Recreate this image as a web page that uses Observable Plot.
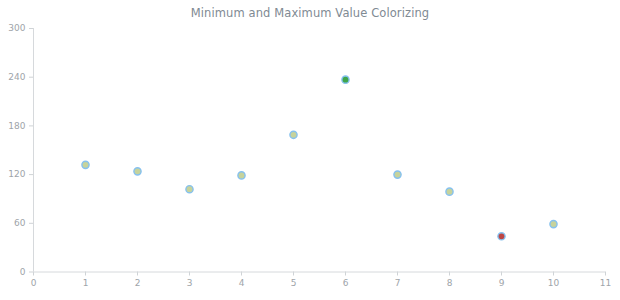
<!DOCTYPE html>
<html>
<head>
<meta charset="utf-8">
<script src="https://cdn.jsdelivr.net/npm/d3@7"></script>
<script src="https://cdn.jsdelivr.net/npm/@observablehq/plot@0.6"></script>
<style>
  body { margin: 0; background: #fff; }
  #wrap { position: relative; width: 620px; height: 300px; }
  #title { position: absolute; left: 0; top: 6px; width: 620px; text-align: center;
    font: 11.5px "DejaVu Sans", sans-serif; color: #808a93; letter-spacing: 0.1px; }
</style>
</head>
<body>
<div id="wrap"><div id="title">Minimum and Maximum Value Colorizing</div></div>
<script>
const xValues = [1, 2, 3, 4, 5, 6, 7, 8, 9, 10];
const yValues = [132, 124, 102, 119, 169, 237, 120, 99, 44, 59];
const xTicks = [0, 1, 2, 3, 4, 5, 6, 7, 8, 9, 10, 11];
const yTicks = [0, 60, 120, 180, 240, 300];

const maxV = d3.max(yValues), minV = d3.min(yValues);
const data = xValues.map((x, i) => ({
  x, y: yValues[i],
  kind: yValues[i] === maxV ? "max" : yValues[i] === minV ? "min" : "normal"
}));

const chart = Plot.plot({
  width: 620,
  height: 300,
  marginTop: 28,
  marginBottom: 28.5,
  marginLeft: 33,
  marginRight: 15,
  style: { fontFamily: "DejaVu Sans, sans-serif", fontSize: "9px", color: "#9ea4a9", background: "#fff" },
  x: { domain: [0, 11], ticks: xTicks, tickSize: 4, tickPadding: 4, label: null },
  y: { domain: [0, 300], ticks: yTicks, tickSize: 4, tickPadding: 4, label: null },
  color: { domain: ["normal", "max", "min"], range: ["#c6d39c", "#3fa64a", "#bd4645"] },
  marks: [
    Plot.axisX({ ticks: xTicks, tickSize: 4, tickPadding: 4, stroke: "#cfd3d6", fill: "#9ea4a9", label: null }),
    Plot.axisY({ ticks: yTicks, tickSize: 4, tickPadding: 4, stroke: "#cfd3d6", fill: "#9ea4a9", label: null }),
    Plot.ruleX([0], { stroke: "#d6d9dc" }),
    Plot.ruleY([0], { stroke: "#d6d9dc" }),
    Plot.dot(data, { x: "x", y: "y", r: 3.6, fill: "kind", stroke: "#86c1ef", strokeWidth: 1.4 })
  ]
});
document.getElementById("wrap").appendChild(chart);
</script>
</body>
</html>
